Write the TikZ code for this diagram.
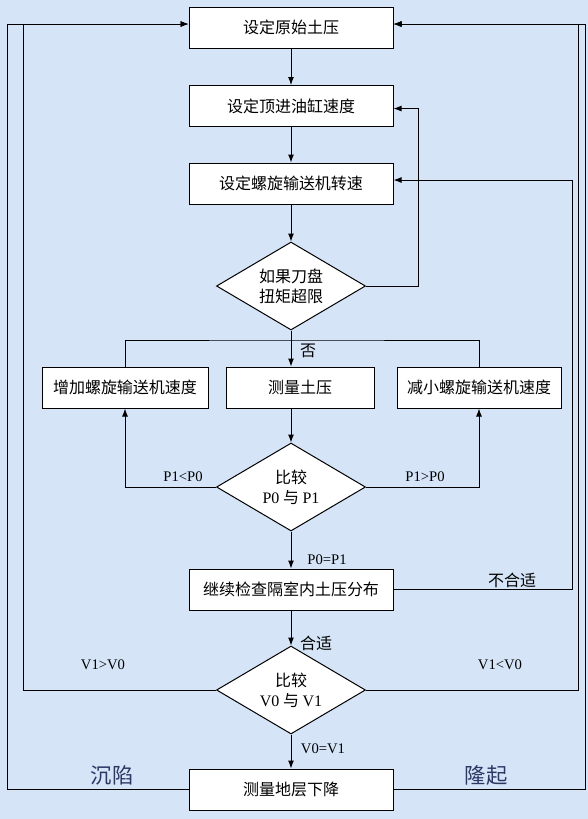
\documentclass[tikz,border=0pt]{standalone}
\usepackage{fontspec}
\setmainfont{Liberation Serif}
\newfontfamily\cjk{Noto Sans CJK SC}
\usepackage{tikz}
\usetikzlibrary{shapes.geometric}
\usetikzlibrary{arrows.meta}
\usetikzlibrary{positioning}
\definecolor{paper}{RGB}{213,229,247}
\definecolor{sidetext}{RGB}{45,55,100}

\begin{document}
\begin{tikzpicture}[x = 0.75pt, y = -0.75pt, line width = 0.75pt, >={Latex[length=6pt, width=4.5pt]},
		box/.style = {draw, fill=white, minimum height=30.75pt, inner sep=0pt, font=\cjk\fontsize{12}{15}\selectfont},
		cond/.style = {draw, fill=white, diamond, aspect=1.7, inner sep=0pt, minimum width=111.75pt, minimum height=66pt, align=center, font=\cjk\fontsize{12}{15}\selectfont},
		lbl/.style = {anchor=base, inner sep=0pt, font=\fontsize{11}{13}\selectfont},
		zh/.style = {inner sep=0pt, font=\cjk\fontsize{12}{15}\selectfont},
		side/.style = {inner sep=0pt, text=sidetext, font=\cjk\fontsize{16}{18}\selectfont}]
			 	\fill[paper] (0, 0) rectangle (588, 819);
			 	\useasboundingbox (0, 0) rectangle (588, 819);
			 	
			 	% Nodes
			 	\node[box, minimum width=153pt] (s0) at (291, 27.5) {设定原始土压};
			 	\node[box, minimum width=153pt] (s1) at (291, 106) {设定顶进油缸速度};
			 	\node[box, minimum width=153pt] (s2) at (291, 183.5) {设定螺旋输送机转速};
			 	\node[cond] (c0) at (291, 286) {如果刀盘\\扭矩超限};
			 	\node[box, minimum width=124.5pt] (up) at (125, 387.5) {增加螺旋输送机速度};
			 	\node[box, minimum width=111pt] (ms) at (300, 387.5) {测量土压};
			 	\node[box, minimum width=123pt] (dn) at (479, 387.5) {减小螺旋输送机速度};
			 	\node[cond] (c1) at (291, 487) {比较\\{\rmfamily P0} 与 {\rmfamily P1}};
			 	\node[box, minimum width=153pt] (ck) at (291, 589.5) {继续检查隔室内土压分布};
			 	\node[cond] (c2) at (291, 690) {比较\\{\rmfamily V0} 与 {\rmfamily V1}};
			 	\node[box, minimum width=153pt] (gd) at (291, 789.5) {测量地层下降};
			 	\coordinate (j0) at (291, 340);
			 	
			 	% Labels
			 	\node[zh] (no) at (308, 351) {否};
			 	\node[lbl] (lt) at (183, 481) {P1<P0};
			 	\node[lbl] (gt) at (425, 481) {P1>P0};
			 	\node[lbl] (eq) at (327, 564) {P0=P1};
			 	\node[zh] (bad) at (512, 580) {不合适};
			 	\node[zh] (ok) at (316, 643) {合适};
			 	\node[lbl] (vgt) at (103, 669) {V1>V0};
			 	\node[lbl] (vlt) at (500, 669) {V1<V0};
			 	\node[lbl] (veq) at (323, 753) {V0=V1};
			 	\node[side] (sink) at (112, 775) {沉陷};
			 	\node[side] (rise) at (486, 775) {隆起};
			 	
			 	% Edges
			 	\draw[->] (s0.south) to (s1.north);
			 	\draw[->] (s1.south) to (s2.north);
			 	\draw[->] (s2.south) to (c0.north);
			 	\draw[->] (c0.east) -- ++(52, 0) |- ([yshift=-1.9pt]s1.east);
			 	\draw[->] (c0.south) to (c0.south |- ms.north);
			 	\draw (up.north) |- (j0) -| (dn.north);
			 	\draw[->] (c1.north |- ms.south) to (c1.north);
			 	\draw[->] (c1.west) -| (up.south);
			 	\draw[->] (c1.east) -| (dn.south);
			 	\draw[->] (c1.south) to (ck.north);
			 	\draw[->] (ck.east) -- ++(179, 0) |- ([yshift=2.6pt]s2.east);
			 	\draw[->] (ck.south) to (c2.north);
			 	\draw[->] (c2.west) -- ++(-193, 0) |- ([yshift=2.6pt]s0.west);
			 	\draw[->] (c2.east) -- ++(212, 0) |- ([yshift=2.6pt]s0.east);
			 	\draw[->] (c2.south) to (gd.north);
			 	\draw[->] (gd.west) -- ++(-181, 0) |- ([yshift=2.6pt]s0.west);
			 	\draw[->] (gd.east) -- ++(192, 0) |- ([yshift=2.6pt]s0.east);
\end{tikzpicture}
\end{document}
